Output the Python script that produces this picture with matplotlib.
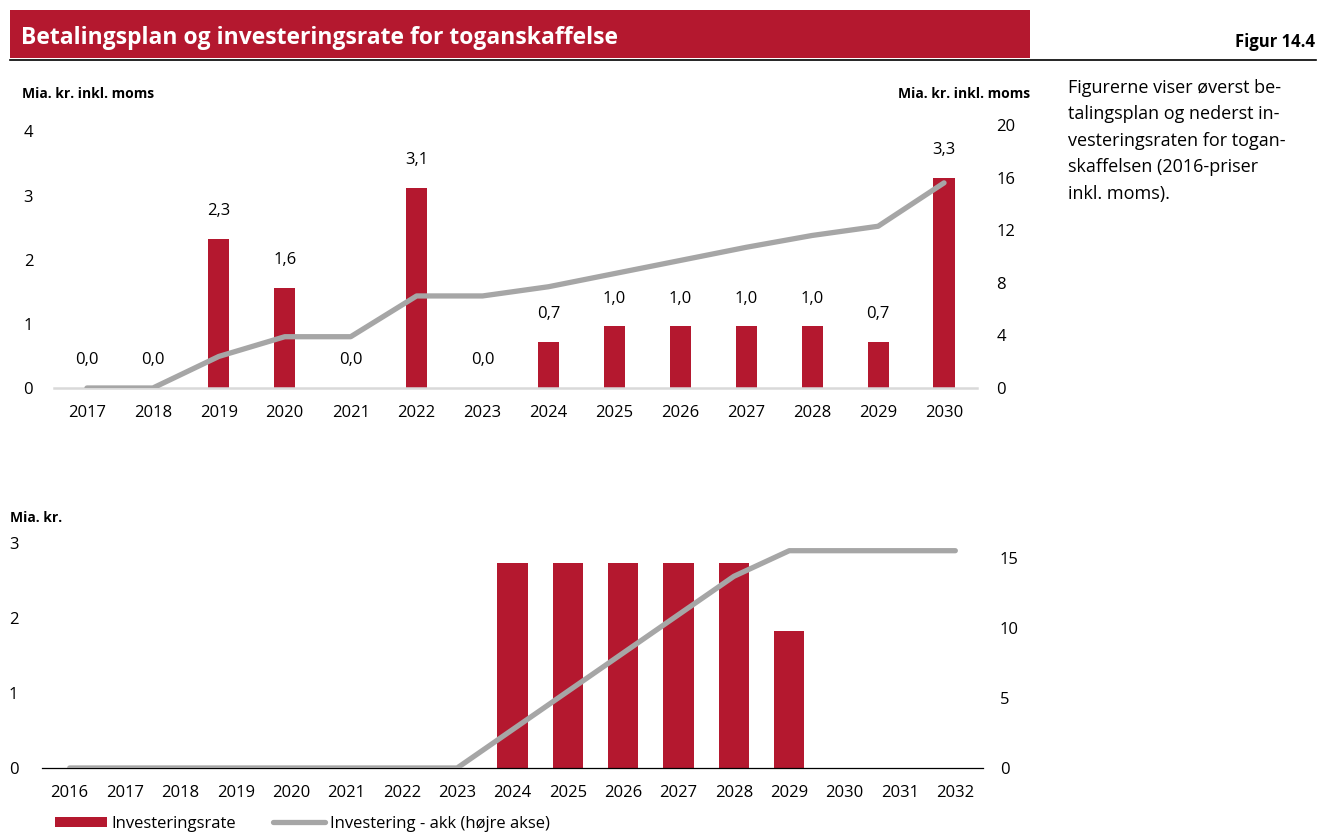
import matplotlib
matplotlib.use("Agg")
import matplotlib.pyplot as plt
from matplotlib.patches import Rectangle, Patch
from matplotlib.lines import Line2D

plt.rcParams['font.family'] = ['Open Sans', 'DejaVu Sans']

# Betalingsplan (top)
years_top = ['2017', '2018', '2019', '2020', '2021', '2022', '2023',
             '2024', '2025', '2026', '2027', '2028', '2029', '2030']
payments = [0.0, 0.0, 2.32, 1.56, 0.0, 3.12, 0.0, 0.72, 0.96, 0.96, 0.96, 0.96, 0.72, 3.27]
payments_cum = [0.0, 0.0, 2.4, 3.9, 3.9, 7.0, 7.0, 7.7, 8.7, 9.7, 10.7, 11.6, 12.3, 15.6]

# Investeringsrate (bottom)
years_bottom = ['2016', '2017', '2018', '2019', '2020', '2021', '2022', '2023', '2024',
                '2025', '2026', '2027', '2028', '2029', '2030', '2031', '2032']
rate = [0, 0, 0, 0, 0, 0, 0, 0, 2.74, 2.74, 2.74, 2.74, 2.74, 1.83, 0, 0, 0]
rate_cum = [0, 0, 0, 0, 0, 0, 0, 0, 2.74, 5.48, 8.22, 10.96, 13.70, 15.53, 15.53, 15.53, 15.53]

RED = '#B4182F'
GREY = '#A6A6A6'
W, H = 1331, 839

fig = plt.figure(figsize=(W / 100, H / 100), dpi=100)


def fx(px):
    return px / W


def fy(px):
    return 1 - px / H


# header band and rule
fig.patches.append(Rectangle((fx(10), fy(58)), fx(1020), 48 / H, transform=fig.transFigure,
                             facecolor=RED, edgecolor='none'))
fig.lines.append(Line2D([fx(10), fx(1316)], [fy(59.5), fy(59.5)], transform=fig.transFigure,
                        color='black', lw=1.2))
fig.text(fx(21), fy(38), 'Betalingsplan og investeringsrate for toganskaffelse', color='white',
         fontsize=16.5, fontweight='bold', va='center', ha='left')
fig.text(fx(1315), fy(42), 'Figur 14.4', fontsize=12, fontweight='bold', va='center', ha='right')

fig.text(fx(1068), fy(79),
         'Figurerne viser øverst be-\ntalingsplan og nederst in-\nvesteringsraten for togan-\n'
         'skaffelsen (2016-priser\ninkl. moms).',
         fontsize=13, va='top', ha='left', linespacing=1.6)

fig.text(fx(22), fy(94), 'Mia. kr. inkl. moms', fontsize=10, fontweight='bold', va='center')
fig.text(fx(1030), fy(94), 'Mia. kr. inkl. moms', fontsize=10, fontweight='bold', va='center',
         ha='right')
fig.text(fx(10), fy(518), 'Mia. kr.', fontsize=10, fontweight='bold', va='center')


def clean(ax):
    for s in ax.spines.values():
        s.set_visible(False)
    ax.tick_params(length=0, labelsize=12)


# --- top chart ---
ax1 = fig.add_axes([fx(54), fy(388), fx(923), 263 / H])
x1 = range(len(years_top))
ax1.bar(x1, payments, width=0.32, color=RED, zorder=2)
for xi, v in zip(x1, payments):
    ax1.annotate(f'{v:.1f}'.replace('.', ','), (xi, v), xytext=(0, 20), textcoords='offset points',
                 ha='center', va='center', fontsize=12)
ax1.set_xlim(-0.5, len(years_top) - 0.5)
ax1.set_ylim(0, 4.1)
ax1.set_yticks([0, 1, 2, 3, 4])
ax1.set_xticks(list(x1))
ax1.set_xticklabels(years_top)
clean(ax1)
ax1.spines['bottom'].set_visible(True)
ax1.spines['bottom'].set_color('#D9D9D9')
ax1.spines['bottom'].set_linewidth(1.8)
ax1.tick_params(axis='x', pad=12)
ax1.tick_params(axis='y', pad=15)

ax1r = ax1.twinx()
ax1r.plot(x1, payments_cum, color=GREY, lw=3.8, solid_capstyle='round', solid_joinstyle='round')
ax1r.set_ylim(0, 20)
ax1r.set_yticks([0, 4, 8, 12, 16, 20])
clean(ax1r)
ax1r.tick_params(axis='y', pad=14)

# --- bottom chart ---
ax2 = fig.add_axes([fx(42), fy(768), fx(941), 225 / H])
x2 = range(len(years_bottom))
ax2.bar(x2, rate, width=0.55, color=RED, zorder=2, label='Investeringsrate')
ax2.set_xlim(-0.5, len(years_bottom) - 0.5)
ax2.set_ylim(0, 3)
ax2.set_yticks([0, 1, 2, 3])
ax2.set_xticks(list(x2))
ax2.set_xticklabels(years_bottom)
clean(ax2)
ax2.spines['bottom'].set_visible(True)
ax2.spines['bottom'].set_color('black')
ax2.spines['bottom'].set_linewidth(0.9)
ax2.tick_params(axis='x', pad=12)
ax2.tick_params(axis='y', pad=17)

ax2r = ax2.twinx()
ax2r.plot(x2, rate_cum, color=GREY, lw=3.8, solid_capstyle='round', solid_joinstyle='round',
          label='Investering - akk (højre akse)')
ax2r.set_ylim(0, 16.08)
ax2r.set_yticks([0, 5, 10, 15])
clean(ax2r)
ax2r.tick_params(axis='y', pad=12)

handles = [Patch(facecolor=RED, edgecolor='none'),
           Line2D([], [], color=GREY, lw=3.8, solid_capstyle='round')]
fig.legend(handles, ['Investeringsrate', 'Investering - akk (højre akse)'],
           loc='center left', bbox_to_anchor=(fx(55), fy(824)), ncol=2, frameon=False,
           fontsize=12, handlelength=3.1, handleheight=0.6, handletextpad=0.3,
           columnspacing=2.2, borderaxespad=0, borderpad=0)

fig.savefig('out.png', dpi=100)
